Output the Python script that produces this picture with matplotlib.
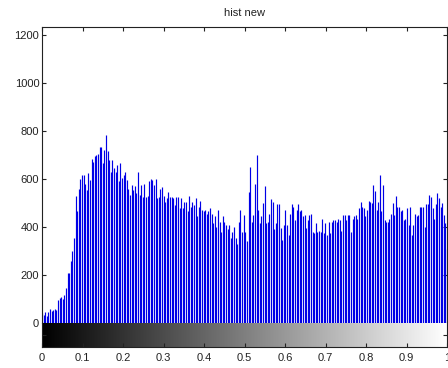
import numpy as np
import matplotlib
matplotlib.use("Agg")
import matplotlib.pyplot as plt

title = "hist new"
x_ticks = [0, 0.1, 0.2, 0.3, 0.4, 0.5, 0.6, 0.7, 0.8, 0.9, 1]
x_tick_labels = ["0", "0.1", "0.2", "0.3", "0.4", "0.5", "0.6", "0.7", "0.8", "0.9", "1"]
y_ticks = [0, 200, 400, 600, 800, 1000, 1200]

counts_a = [40, 35, 45, 30, 45, 60, 50, 55, 60, 55,
            95, 105, 110, 100, 115, 145, 210, 210, 260, 300,
            355, 530, 465, 560, 600, 615, 615, 580, 555, 625,
            595, 685, 670, 695, 700, 705, 735, 735, 665, 720,
            785, 715, 680, 630, 680, 645, 630, 660, 590, 665,
            605, 615, 630, 595, 560, 535, 575, 555, 570, 540,
            630, 535, 575, 525]
counts_b = [580, 525, 530, 590, 600, 595, 575, 600, 520, 525,
            560, 565, 530, 505, 520, 545, 525, 525, 520, 490,
            525, 525, 480, 520, 480, 505, 505, 465, 530, 485,
            505, 490, 520, 445, 485, 510, 470, 465, 470, 455,
            465, 480, 455, 415, 445, 400, 470, 420, 380, 445,
            420, 410, 390, 410, 355, 380, 400, 355, 330, 420,
            470, 380, 450, 380]
counts_c = [340, 545, 650, 420, 450, 580, 700, 470, 415, 445,
            500, 570, 415, 420, 455, 515, 505, 390, 415, 495,
            495, 395, 345, 410, 470, 410, 365, 455, 495, 485,
            430, 470, 495, 465, 470, 445, 450, 395, 430, 450,
            455, 380, 375, 415, 380, 385, 380, 435, 375, 415,
            365, 420, 375, 420, 430, 430, 420, 435, 430, 385,
            450, 450, 430]
counts_d = [450, 450, 380, 435, 445, 450, 435, 480, 505, 485,
            480, 445, 470, 510, 505, 500, 575, 550, 470, 505,
            615, 465, 575, 430, 420, 420, 435, 455, 500, 450,
            530, 485, 485, 465, 470, 430, 435, 480, 410, 485,
            365, 410, 455, 445, 450, 485, 485, 485, 400, 495,
            495, 535, 525, 480, 435, 495, 540, 520, 485, 500,
            450, 415, 310]
counts = np.array(counts_a + counts_b + counts_c + counts_d, dtype=float)
levels = np.arange(len(counts)) / (len(counts) - 1)

plt.rcParams['font.family'] = ['Liberation Sans', 'DejaVu Sans']
fig = plt.figure(figsize=(4.48, 3.68), dpi=100)
W, H = 448, 368
ax = fig.add_axes([42 / W, (H - 323) / H, 405 / W, 296 / H])
cax = fig.add_axes([42 / W, (H - 347) / H, 405 / W, 24 / H])

edge = '#222222'
ax.vlines(levels, 0, counts, colors='#0000e6', linewidth=0.85)
ax.set_xlim(0, 1)
ax.set_ylim(0, 1233)
ax.set_yticks(y_ticks)
ax.set_xticks(x_ticks)
ax.tick_params(axis='x', which='both', top=True, bottom=False, labelbottom=False,
               direction='in', length=3, color=edge)
ax.tick_params(axis='y', which='both', left=True, right=True, direction='in',
               length=3, color=edge, labelsize=8, labelcolor='#222222', pad=2)
for s in ['top', 'left', 'right']:
    ax.spines[s].set_color(edge)
    ax.spines[s].set_linewidth(0.8)
ax.spines['bottom'].set_visible(False)
ax.set_title(title, fontsize=8, color='#222222', pad=8)

grad = np.linspace(0, 1, 256).reshape(1, -1)
cax.imshow(grad, cmap='gray', aspect='auto', extent=[0, 1, 0, 1], interpolation='bilinear')
cax.set_xlim(0, 1)
cax.set_ylim(0, 1)
cax.set_xticks(x_ticks)
cax.set_xticklabels(x_tick_labels)
cax.set_yticks([0.5])
cax.set_yticklabels([])
cax.tick_params(axis='x', direction='in', length=3, color=edge, labelsize=8,
                labelcolor='#222222', pad=4)
cax.tick_params(axis='y', left=True, right=True, direction='in', length=3, color=edge)
for s in cax.spines.values():
    s.set_color(edge)
    s.set_linewidth(0.8)
cax.spines['top'].set_visible(False)

fig.savefig('out.png', dpi=100)
